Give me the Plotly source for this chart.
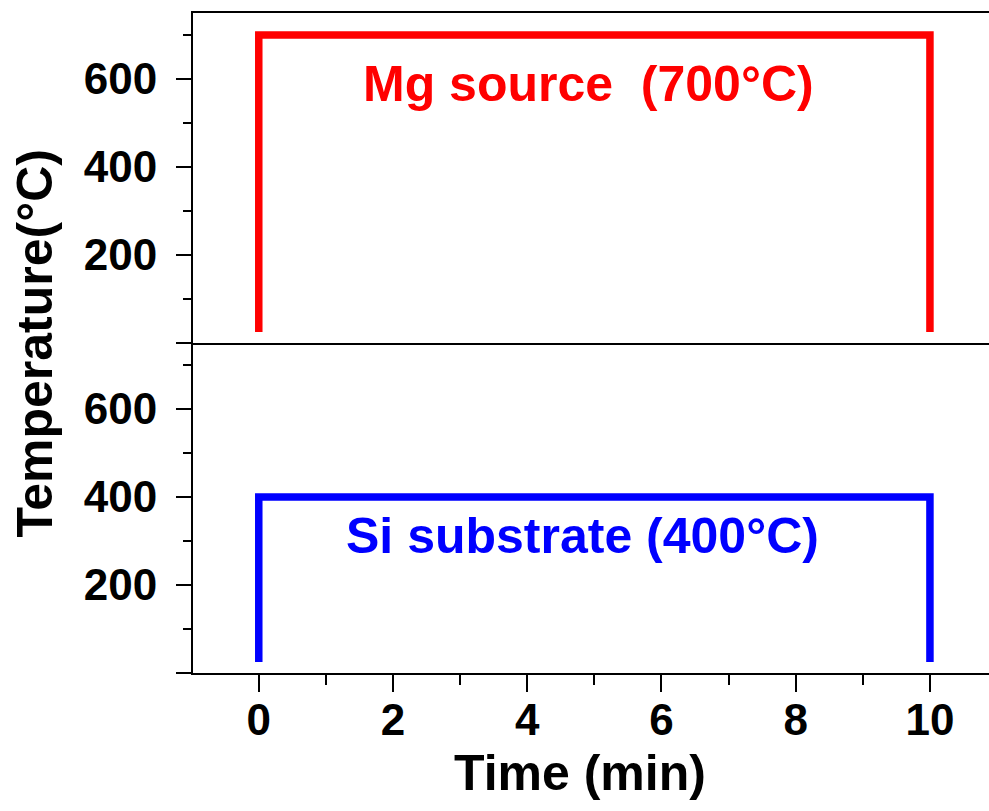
import plotly.graph_objects as go
from plotly.subplots import make_subplots

# Data
time_min = [0, 0, 10, 10]
mg_temp = [25, 700, 700, 25]
si_temp = [25, 400, 400, 25]
mg_label = "Mg source  (700°C)"
si_label = "Si substrate (400°C)"
x_ticks = [0, 2, 4, 6, 8, 10]
y_ticks = [0, 200, 400, 600]
y_ticktext = ["", "200", "400", "600"]

FONT = "Arial, Liberation Sans, sans-serif"

fig = make_subplots(rows=2, cols=1, shared_xaxes=True, vertical_spacing=0)

fig.add_trace(go.Scatter(x=time_min, y=mg_temp, mode="lines",
                         line=dict(color="#ff0000", width=7.5), showlegend=False), row=1, col=1)
fig.add_trace(go.Scatter(x=time_min, y=si_temp, mode="lines",
                         line=dict(color="#0000ff", width=7.5), showlegend=False), row=2, col=1)

xr = [-0.98, 10.88]
yr = [0, 750]

yaxis_common = dict(range=yr, showline=True, linecolor="black", linewidth=2,
                    ticks="outside", ticklen=15, tickwidth=2, tickcolor="black",
                    tickvals=y_ticks, ticktext=y_ticktext, ticklabelstandoff=10,
                    tickfont=dict(family=FONT, size=44, color="black", weight="bold"),
                    minor=dict(tickvals=[100, 300, 500, 700], ticks="outside", ticklen=8,
                               tickwidth=2, tickcolor="black"),
                    showgrid=False, zeroline=False)

fig.update_layout(
    width=989, height=811,
    margin=dict(l=193, r=0, t=13, b=138),
    paper_bgcolor="white", plot_bgcolor="white",
    font=dict(family=FONT, color="black"),
    xaxis=dict(range=xr, showline=True, linecolor="black", linewidth=2, mirror=True,
               ticks="", showticklabels=False, showgrid=False, zeroline=False,
               domain=[0, 1]),
    xaxis2=dict(range=xr, showline=True, linecolor="black", linewidth=2,
                ticks="outside", ticklen=17, tickwidth=2, tickcolor="black",
                tickvals=x_ticks, ticktext=[str(v) for v in x_ticks], ticklabelstandoff=-10,
                tickfont=dict(family=FONT, size=44, color="black", weight="bold"),
                minor=dict(tick0=-1, dtick=2, ticks="outside", ticklen=10, tickwidth=2, tickcolor="black"),
                showgrid=False, zeroline=False),
    yaxis=dict(domain=[0.5, 1], **yaxis_common),
    yaxis2=dict(domain=[0, 0.5], **yaxis_common),
)

fig.add_annotation(x=4.91, y=588, xref="x", yref="y", text=mg_label, showarrow=False,
                   font=dict(family=FONT, size=50, color="#ff0000", weight="bold"))
fig.add_annotation(x=4.82, y=311, xref="x2", yref="y2", text=si_label, showarrow=False,
                   font=dict(family=FONT, size=50, color="#0000ff", weight="bold"))

fig.add_annotation(x=-0.199, y=0.5, xref="paper", yref="paper", text="Temperature(°C)",
                   textangle=-90, showarrow=False, xanchor="center", yanchor="middle",
                   font=dict(family=FONT, size=50, color="black", weight="bold"))
fig.add_annotation(x=0.486, y=-0.1515, xref="paper", yref="paper", text="Time (min)",
                   showarrow=False, xanchor="center", yanchor="middle",
                   font=dict(family=FONT, size=50, color="black", weight="bold"))

fig.write_html("out.html")
